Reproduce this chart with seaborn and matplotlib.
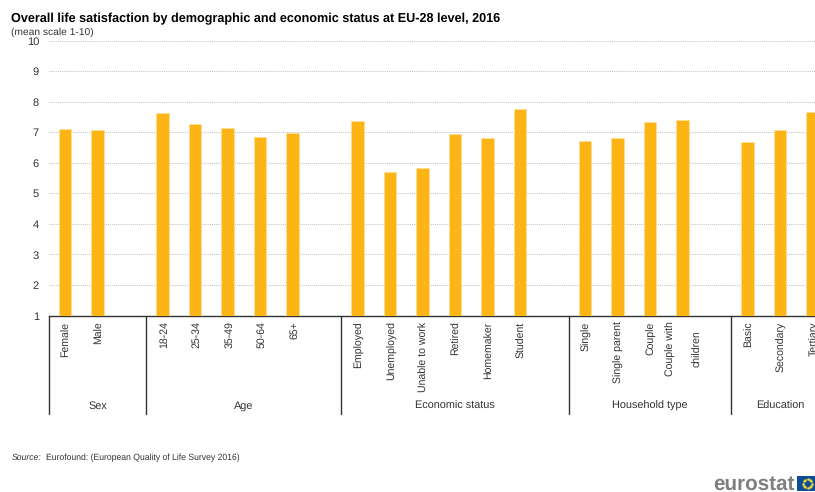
import matplotlib
matplotlib.use("Agg")
import matplotlib.pyplot as plt
import numpy as np
import pandas as pd
import seaborn as sns
from matplotlib.patches import Rectangle

# Survey results, one list per demographic breakdown
group_names = ["Sex", "Age", "Economic status", "Household type", "Education"]
sex_labels = ["Female", "Male"]
sex_values = [7.12, 7.08]
age_labels = ["18-24", "25-34", "35-49", "50-64", "65+"]
age_values = [7.63, 7.26, 7.13, 6.83, 6.96]
economic_labels = ["Employed", "Unemployed", "Unable to work", "Retired", "Homemaker", "Student"]
economic_values = [7.37, 5.71, 5.84, 6.93, 6.80, 7.76]
household_labels = ["Single", "Single parent", "Couple", "Couple with\nchildren"]
household_values = [6.73, 6.80, 7.32, 7.39]
education_labels = ["Basic", "Secondary", "Tertiary"]
education_values = [6.67, 7.09, 7.65]

labels_by_group = [sex_labels, age_labels, economic_labels, household_labels, education_labels]
values_by_group = [sex_values, age_values, economic_values, household_values, education_values]

W, H = 815, 492
BAR_COLOR = "#FDB515"
FONT = "Liberation Sans"

sns.set_theme(style="white")
plt.rcParams["font.family"] = [FONT, "DejaVu Sans"]
plt.rcParams["text.hinting"] = "no_hinting"

frame = pd.DataFrame({
    "label": [l for group in labels_by_group for l in group],
    "value": [v for group in values_by_group for v in group],
})

# Category order with one empty slot between groups; the last group has no trailing slot
order, group_spans = [], []
for i, group in enumerate(labels_by_group):
    start = len(order)
    order.extend(group)
    last = i == len(labels_by_group) - 1
    group_spans.append((start - 0.5, start + len(group) - 0.5 if last else start + len(group) + 0.5))
    if not last:
        order.append(f"gap{i}")

fig = plt.figure(figsize=(W / 100, H / 100), dpi=100, facecolor="white")
ax = fig.add_axes([48.8 / W, 1 - 315.6 / H, (W - 48.8) / W, 275 / H])

sns.barplot(data=frame, x="label", y="value", order=order, color=BAR_COLOR,
            saturation=1, width=0.39, ax=ax, zorder=3,
            edgecolor="#FEDD96", linewidth=0.6)

ax.set_xlim(-0.5, (W - 48.8) / 32.5 - 0.5)
ax.set_ylim(1, 10)
ax.set_xlabel("")
ax.set_ylabel("")
ax.set_yticks(range(1, 11))
ax.yaxis.grid(True, color="#c4c4c4", linestyle=(0, (1, 1)), linewidth=0.75, zorder=0)
ax.xaxis.grid(False)
ax.tick_params(axis="y", length=0, pad=7, labelsize=8, labelcolor="#333333")
ax.set_xticks([])
for side in ("top", "right", "left"):
    ax.spines[side].set_visible(False)
ax.spines["bottom"].set_color("#333333")
ax.spines["bottom"].set_linewidth(1.0)

# Labels and group separators hang below the baseline
trans = ax.get_xaxis_transform()
to_y = lambda px: 1 - (px - 40.6) / 275
for pos, name in enumerate(order):
    if name.startswith("gap"):
        continue
    ax.text(pos + 0.05, to_y(321.5), name, transform=trans, rotation=90, ha="center", va="top",
            ma="center", fontsize=7.6, color="#333333", linespacing=3.0, clip_on=False)

for (left, right), name in zip(group_spans, group_names):
    ax.plot([left, left], [to_y(316), to_y(413.5)], transform=trans, color="#333333",
            linewidth=1.0, clip_on=False)
    ax.text((left + right) / 2, to_y(406), name, transform=trans, ha="center", va="center",
            fontsize=7.8, color="#333333", clip_on=False)

fig.text(11 / W, 1 - 18.5 / H, "Overall life satisfaction by demographic and economic status at EU-28 level, 2016",
         fontsize=9.14, fontweight="bold", color="black", va="center")
fig.text(11 / W, 1 - 32 / H, "(mean scale 1-10)", fontsize=7.4, color="#333333", va="center")
fig.text(12 / W, 1 - 457.5 / H, "Source:", fontsize=6.2, style="italic", color="#333333", va="center")
fig.text(46 / W, 1 - 457.5 / H, "Eurofound: (European Quality of Life Survey 2016)", fontsize=6.2,
         color="#333333", va="center")

# Wordmark and flag in the lower right corner
fig.text(713 / W, 1 - 490 / H, "eurostat", fontsize=14.9, fontweight="bold", color="#7f7f7f",
         va="baseline")
fig.add_artist(Rectangle((797 / W, 1 - 491 / H), 18 / W, 15 / H, transform=fig.transFigure,
                         facecolor="#0E4C9A", edgecolor="none"))
angles = np.linspace(0, 2 * np.pi, 12, endpoint=False)
fig.add_artist(plt.Line2D((807.5 + 4.3 * np.cos(angles)) / W, (H - 483.5 + 4.3 * np.sin(angles)) / H,
                          transform=fig.transFigure, linestyle="none", marker="o",
                          markersize=0.9, color="#E8D33A"))

fig.savefig("out.png", dpi=100, facecolor="white")
